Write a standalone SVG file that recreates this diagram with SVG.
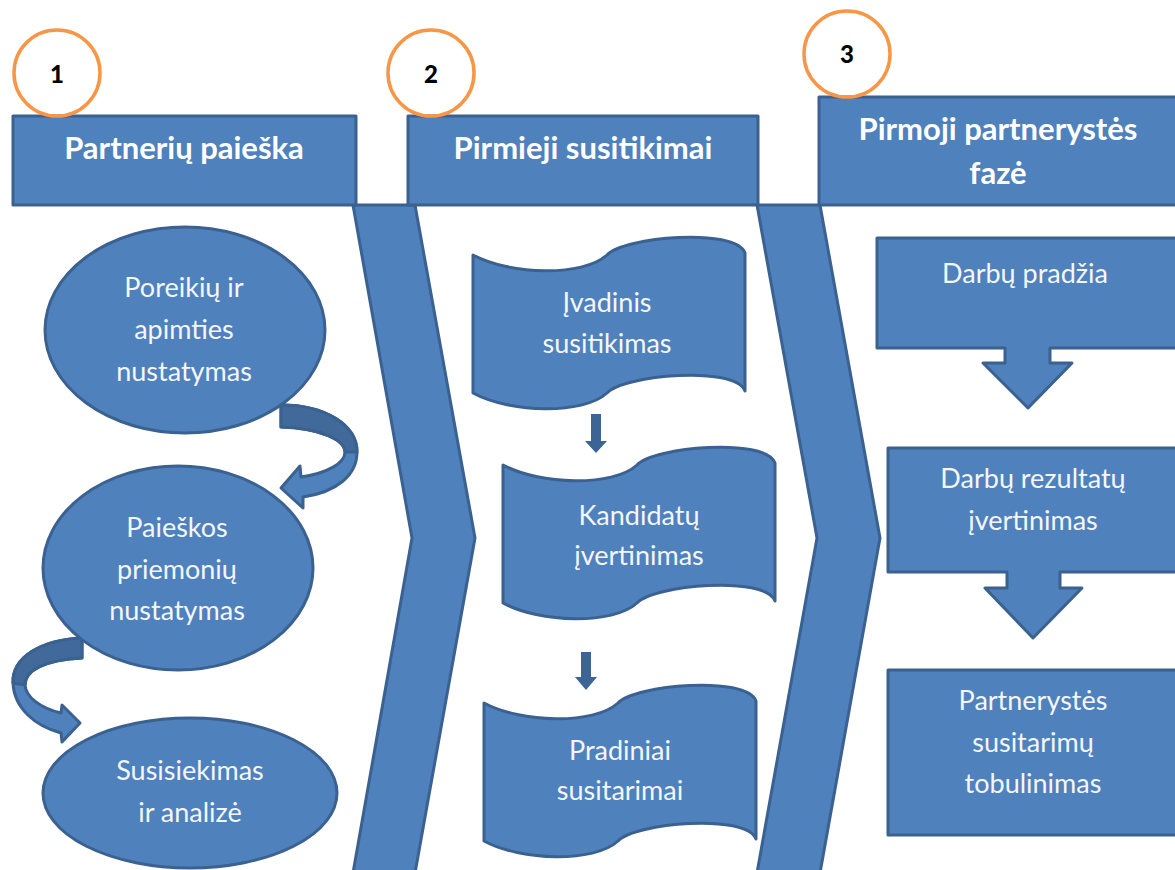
<svg xmlns="http://www.w3.org/2000/svg" width="1175" height="870" viewBox="0 0 1175 870">
<defs>
<style>
.shape{fill:#4F81BD;stroke:#3A6190;stroke-width:3;stroke-linejoin:round}
.back{fill:#41699A;stroke:#3A6190;stroke-width:3;stroke-linejoin:round}
.dark{fill:#3C6495;stroke:none}
.num{fill:none;stroke:#F79646;stroke-width:3.5}
.ntxt{font-family:Lato,"Open Sans",sans-serif;font-weight:900;font-size:24px;fill:#000;text-anchor:middle}
.htxt{font-family:Lato,"Open Sans",sans-serif;font-weight:bold;font-size:31px;fill:#fff;text-anchor:middle}
.txt{font-family:Lato,"Open Sans",sans-serif;font-size:27px;fill:#F4F6FA;text-anchor:middle}
</style>
<path id="wave" d="M 0 0 C 37 20, 110 22, 134 0 C 150 -18, 262 -28, 272 -2 L 272 136 C 262 110, 150 120, 134 138 C 110 160, 37 158, 0 138 Z"/>
</defs>
<rect width="1175" height="870" fill="#fff"/>

<g id="chevrons">
<path class="shape" d="M 353 205 L 415 205 L 475 538 L 415 873 L 353 873 L 412 538 Z"/>
<path class="shape" d="M 757 205 L 820 205 L 880 538 L 820 873 L 757 873 L 817 538 Z"/>
</g>

<g id="header1">
<rect class="shape" x="13" y="116" width="343" height="89"/>
<text class="htxt" x="184" y="159">Partnerių paieška</text>
</g>
<g id="header2">
<rect class="shape" x="408" y="116" width="350" height="89"/>
<text class="htxt" x="583" y="159">Pirmieji susitikimai</text>
</g>
<g id="header3">
<rect class="shape" x="819" y="97" width="358" height="108"/>
<text class="htxt" x="998" y="140">Pirmoji partnerystės</text>
<text class="htxt" x="998" y="184">fazė</text>
</g>

<g id="step1">
<circle class="num" cx="57" cy="73" r="43"/>
<text class="ntxt" x="57" y="83">1</text>
</g>
<g id="step2">
<circle class="num" cx="431" cy="73" r="43"/>
<text class="ntxt" x="431" y="83">2</text>
</g>
<g id="step3">
<circle class="num" cx="847" cy="54" r="43"/>
<text class="ntxt" x="847" y="63">3</text>
</g>

<g id="connectors">
<path class="shape" d="M 281 405 C 325 405, 357 425, 357 452 C 357 475, 337 492, 303 497 L 303 508 L 281 488 L 300 466 L 301 477 C 328 473, 345 463, 345 452 C 345 440, 320 428, 281 427 Z"/>
<path class="back" d="M 281 405 C 325 405, 357 425, 357 452 L 345 452 C 345 440, 320 428, 281 427 Z"/>
<path class="shape" d="M 82 638 C 40 640, 12 658, 13 683 C 14 708, 35 726, 61 733 L 62 742 L 80 723 L 62 705 L 61 713 C 40 708, 26 697, 25 685 C 25 670, 45 660, 82 658 Z"/>
<path class="back" d="M 82 638 C 40 640, 12 658, 13 683 L 25 685 C 25 670, 45 660, 82 658 Z"/>
<path class="dark" d="M 591 414 H 601 V 441 H 607 L 596 453 L 585 441 H 591 Z"/>
<path class="dark" d="M 581 652 H 591 V 677 H 597 L 586 690 L 575 677 H 581 Z"/>
</g>

<g id="ellipse1">
<ellipse class="shape" cx="185" cy="330" rx="140" ry="103"/>
<text class="txt" x="184" y="297">Poreikių ir</text>
<text class="txt" x="184" y="339">apimties</text>
<text class="txt" x="184" y="381">nustatymas</text>
</g>
<g id="ellipse2">
<ellipse class="shape" cx="178" cy="568" rx="135" ry="102"/>
<text class="txt" x="177" y="537">Paieškos</text>
<text class="txt" x="177" y="579">priemonių</text>
<text class="txt" x="177" y="620">nustatymas</text>
</g>
<g id="ellipse3">
<ellipse class="shape" cx="190" cy="793" rx="147" ry="75"/>
<text class="txt" x="190" y="780">Susisiekimas</text>
<text class="txt" x="190" y="822">ir analizė</text>
</g>

<g id="wave1">
<use href="#wave" class="shape" transform="translate(473,255)"/>
<text class="txt" x="607" y="312">Įvadinis</text>
<text class="txt" x="607" y="353">susitikimas</text>
</g>
<g id="wave2">
<use href="#wave" class="shape" transform="translate(503,465)"/>
<text class="txt" x="639" y="525">Kandidatų</text>
<text class="txt" x="639" y="565">įvertinimas</text>
</g>
<g id="wave3">
<use href="#wave" class="shape" transform="translate(484,703)"/>
<text class="txt" x="620" y="760">Pradiniai</text>
<text class="txt" x="620" y="800">susitarimai</text>
</g>

<g id="box1">
<path class="shape" d="M 877 238 H 1177 V 348 H 1050 V 363 H 1072 L 1028 408 L 983 363 H 1005 V 348 H 877 Z"/>
<text class="txt" x="1025" y="283">Darbų pradžia</text>
</g>
<g id="box2">
<path class="shape" d="M 888 448 H 1177 V 572 H 1060 V 588 H 1082 L 1033 638 L 985 588 H 1007 V 572 H 888 Z"/>
<text class="txt" x="1033" y="488">Darbų rezultatų</text>
<text class="txt" x="1033" y="530">įvertinimas</text>
</g>
<g id="box3">
<rect class="shape" x="888" y="670" width="289" height="165"/>
<text class="txt" x="1033" y="710">Partnerystės</text>
<text class="txt" x="1033" y="752">susitarimų</text>
<text class="txt" x="1033" y="793">tobulinimas</text>
</g>
</svg>
